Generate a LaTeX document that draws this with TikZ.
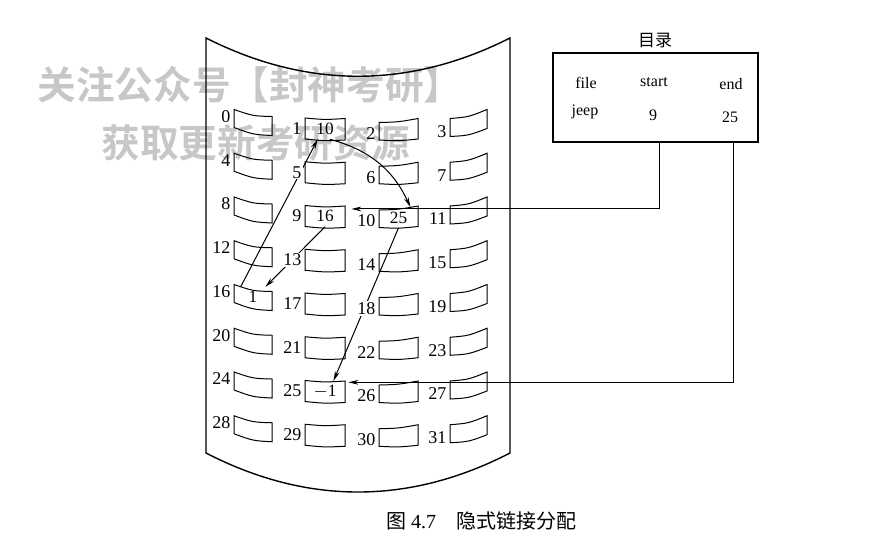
\documentclass[tikz,border=0pt]{standalone}
\usepackage{fontspec}
\setmainfont{Liberation Serif}
\newfontfamily\cjk{Noto Sans CJK SC}
\newfontfamily\cjkbold{Noto Sans CJK SC Bold}
\usetikzlibrary{arrows.meta}

\tikzset{
  blkline/.style={line width=0.5pt},
  blk/.style={inner sep=0pt, minimum height=10pt},
  cnt/.style={font=\fontsize{8.6}{9}\selectfont, inner sep=0pt},
  lbl/.style={font=\fontsize{9}{10}\selectfont, anchor=east, inner sep=0.6pt, fill=white},
  link/.style={line width=0.5pt, -{Stealth[length=5pt,width=2.4pt]}},
  dirtxt/.style={font=\fontsize{8}{9}\selectfont, inner sep=0pt},
  wmark/.style={font=\cjkbold\fontsize{19.3}{20}\selectfont, text=black, text opacity=0.22},
}

\begin{document}
\begin{tikzpicture}[x=0.5pt, y=-0.5pt]
  \useasboundingbox (0,0) rectangle (886,547);

  % bent page
  \draw[line width=0.7pt] (206,38) -- (206,453)
      .. controls (307,505) and (409,505) .. (510,453) -- (510,38)
      .. controls (409,89) and (307,89) .. cycle;

  % disk blocks, 8 rows x 4 columns
  \foreach \r in {0,...,7} {
    \pgfmathsetmacro\y{109.5+43.75*\r}
    \foreach \c/\xl/\w/\tl/\tr/\bl/\br/\sg/\lo in
        {0/234/38/0/7/18/26/3/7, 1/305/40/8.5/9/29.5/30.5/1.5/19,
         2/379/39/13/9/30.5/29.5/1.5/24, 3/450/37/9/0/27/19/3/22} {
      \pgfmathtruncatemacro\n{4*\r+\c}
      \draw[blkline] (\xl,{\y+\tl})
          .. controls ({\xl+\w/2},{\y+(\tl+\tr)/2+\sg}) .. ({\xl+\w},{\y+\tr})
          -- ({\xl+\w},{\y+\br})
          .. controls ({\xl+\w/2},{\y+(\bl+\br)/2+\sg}) .. (\xl,{\y+\bl}) -- cycle;
      \node[blk, minimum width={\w*0.5pt}] (b\n) at ({\xl+\w/2},{\y+(\tl+\tr+\bl+\br)/4}) {};
    }
  }

  % block contents
  \node[cnt] (c1) at (b1) {10};
  \node[cnt] (c9) at (b9) {16};
  \node[cnt] (c10) at (b10) {25};
  \node[cnt] (c16) at (b16) {1};
  \node[cnt] (c25) at (b25) {$-$1};

  % directory
  \node[draw, line width=0.6pt, minimum width=102.5pt, minimum height=44.5pt, inner sep=0pt] (dir) at (655.5,97.5) {};
  \node[font=\cjk\fontsize{8.5}{9}\selectfont] (dtitle) at (655,40) {目录};
  \node[dirtxt] (hfile) at (586,83) {file};
  \node[dirtxt] (hstart) at (654,82) {start};
  \node[dirtxt] (hend) at (731,84) {end};
  \node[dirtxt] (vfile) at (585,112) {jeep};
  \node[dirtxt] (vstart) at (653,115) {9};
  \node[dirtxt] (vend) at (730,117) {25};

  % linked chain
  \draw[link] (b9.south) -- (b16.40);
  \draw[link] (b16.140) -- (b1.235);
  \draw[link] (b1.295) to[out=-15, in=115] (b10.41);
  \draw[link] (b10.south) -- (b25.51);
  \draw[link] (dir.south -| 659,0) |- ([xshift=3pt]b9.20);
  \draw[link] (dir.south -| 733,0) |- ([xshift=1.5pt]b25.24);

  % block numbers
  \foreach \r in {0,...,7} {
    \pgfmathsetmacro\y{109.5+43.75*\r}
    \foreach \c/\xl/\lo in {0/234/7, 1/305/19, 2/379/24, 3/450/22} {
      \pgfmathtruncatemacro\n{4*\r+\c}
      \node[lbl] (l\n) at ({\xl-2},{\y+\lo}) {\n};
    }
  }

  % caption
  \node[font=\fontsize{10}{12}\selectfont] (cap) at (481,521) {{\cjk 图} 4.7\quad{\cjk 隐式链接分配}};

  % watermark
  \node[wmark] (wm1) at (250,85) {关注公众号【封神考研】};
  \node[wmark] (wm2) at (256,143) {获取更新考研资源};
\end{tikzpicture}
\end{document}
